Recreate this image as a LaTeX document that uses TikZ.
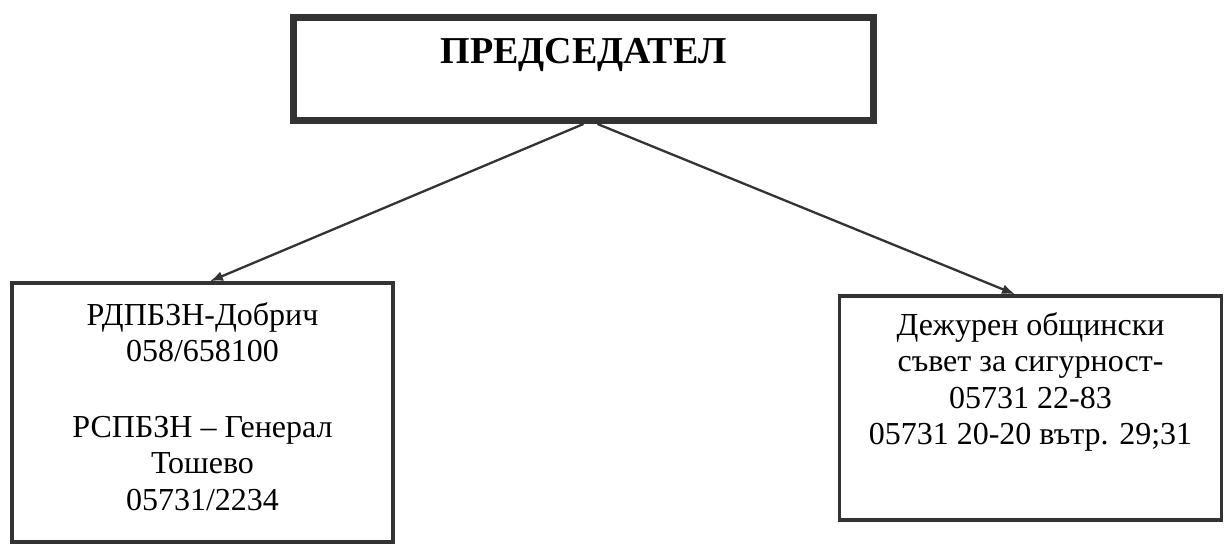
\documentclass[tikz,border=0pt]{standalone}
\usepackage{fontspec}
\setmainfont{Liberation Serif}
\usetikzlibrary{positioning,arrows.meta}
\begin{document}
\begin{tikzpicture}[x=1pt, y=-1pt, line join=miter, >={Latex[length=13pt,width=10pt]},
		box/.style={draw=black!80, line width=3.5pt, inner sep=0pt},
		txt/.style={align=center, inner sep=0pt, font=\fontsize{32}{36.5}\selectfont},
		arr/.style={->, draw=black!80, line width=2.3pt}]
			\useasboundingbox (0,0) rectangle (1230,545);
			% Khung
			\node[box, line width=7pt, minimum width=580pt, minimum height=103pt] (pred) at (583.5,69) {};
			\node[box, minimum width=381pt, minimum height=259pt] (rdp) at (202.5,412.5) {};
			\node[box, minimum width=382pt, minimum height=224pt] (dezh) at (1030.5,408) {};
			% Chữ
			\node[txt, font=\fontsize{38}{40}\selectfont\bfseries, anchor=base] (predT) at (583.5,64) {ПРЕДСЕДАТЕЛ};
			\node[txt, anchor=north] (rdpT) at (202.5,302) {РДПБЗН-Добрич\\058/658100\\[39pt]РСПБЗН – Генерал\\Тошево\\05731/2234};
			\node[txt, anchor=north] (dezhT) at (1030.5,312) {Дежурен общински\\съвет за сигурност-\\05731 22-83\\05731 20-20 вътр. 29;31};
			% Mũi tên
			\draw[arr] (pred.south) -- ([xshift=7.5pt]rdp.north);
			\draw[arr] ([xshift=14pt]pred.south) -- ([xshift=-15.5pt]dezh.north);
		\end{tikzpicture}
\end{document}
